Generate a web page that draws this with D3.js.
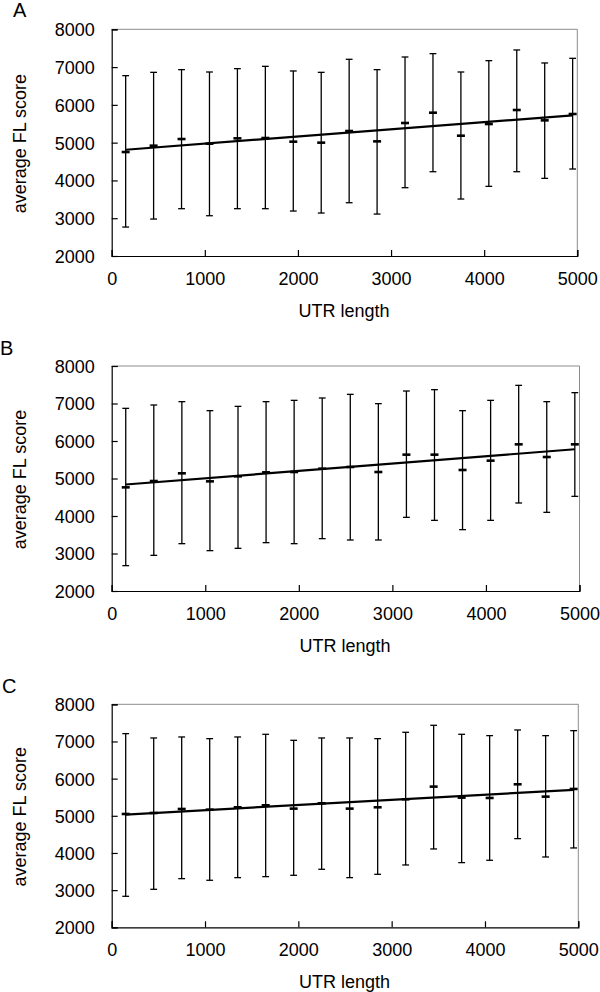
<!DOCTYPE html>
<html>
<head>
<meta charset="utf-8">
<script src="https://cdn.jsdelivr.net/npm/d3@7"></script>
<style>
  html, body { margin: 0; padding: 0; background: #fff; }
  svg { display: block; }
  text { font-family: "Liberation Sans", Arial, sans-serif; fill: #000; }
</style>
</head>
<body>
<svg id="chart" width="600" height="992"></svg>
<script>
// ---- data ----
const utrLength = [150, 450, 750, 1050, 1350, 1650, 1950, 2250, 2550, 2850, 3150, 3450, 3750, 4050, 4350, 4650, 4950];

const meanA  = [4752, 4920, 5096, 4973, 5114, 5123, 5026, 5000, 5308, 5034, 5520, 5793, 5184, 5493, 5864, 5590, 5758];
const upperA = [6773, 6861, 6932, 6870, 6959, 7020, 6897, 6861, 7206, 6932, 7267, 7356, 6870, 7170, 7453, 7109, 7232];
const lowerA = [2766, 2978, 3252, 3066, 3252, 3252, 3190, 3137, 3410, 3110, 3808, 4231, 3508, 3843, 4231, 4055, 4302];

const meanB  = [4764, 4933, 5138, 4924, 5058, 5164, 5173, 5262, 5307, 5173, 5636, 5636, 5227, 5476, 5911, 5573, 5911];
const upperB = [6871, 6960, 7049, 6809, 6924, 7049, 7084, 7147, 7244, 6996, 7333, 7369, 6809, 7084, 7484, 7049, 7289];
const lowerB = [2676, 2951, 3262, 3076, 3138, 3289, 3262, 3396, 3360, 3360, 3964, 3884, 3636, 3884, 4347, 4098, 4524];

const meanC  = [5049, 5076, 5184, 5166, 5229, 5283, 5193, 5336, 5193, 5229, 5444, 5785, 5489, 5480, 5848, 5516, 5722];
const upperC = [7211, 7094, 7121, 7076, 7121, 7193, 7031, 7094, 7094, 7076, 7247, 7435, 7193, 7157, 7309, 7157, 7291];
const lowerC = [2834, 3022, 3309, 3265, 3336, 3363, 3399, 3561, 3336, 3426, 3677, 4108, 3740, 3803, 4386, 3892, 4135];

const xTicks = [0, 1000, 2000, 3000, 4000, 5000];
const yTicks = [2000, 3000, 4000, 5000, 6000, 7000, 8000];
const panelLabels = ["A", "B", "C"];
const xTitle = "UTR length";
const yTitle = "average FL score";

// ---- layout ----
const panels = [
  { label: panelLabels[0], mean: meanA, upper: upperA, lower: lowerA,
    left: 111.7, right: 577.3, top: 29.3, bottom: 256, lx: 13, ly: 17 },
  { label: panelLabels[1], mean: meanB, upper: upperB, lower: lowerB,
    left: 111.7, right: 579.5, top: 366, bottom: 591, lx: 0, ly: 355 },
  { label: panelLabels[2], mean: meanC, upper: upperC, lower: lowerC,
    left: 111.7, right: 578.3, top: 704.3, bottom: 927.3, lx: 2, ly: 693 }
];

const svg = d3.select("#chart");

function linReg(xs, ys) {
  const n = xs.length;
  const mx = d3.mean(xs), my = d3.mean(ys);
  let sxy = 0, sxx = 0;
  for (let i = 0; i < n; i++) { sxy += (xs[i] - mx) * (ys[i] - my); sxx += (xs[i] - mx) ** 2; }
  const b = sxy / sxx;
  return { a: my - b * mx, b };
}

panels.forEach(p => {
  const x = d3.scaleLinear().domain([0, 5000]).range([p.left, p.right]);
  const y = d3.scaleLinear().domain([2000, 8000]).range([p.bottom, p.top]);
  const g = svg.append("g");

  // panel letter
  g.append("text").attr("x", p.lx).attr("y", p.ly)
    .attr("font-size", 20).text(p.label);

  // top/right frame (grey)
  g.append("path")
    .attr("d", `M${p.left},${p.top}H${p.right}V${p.bottom}`)
    .attr("fill", "none").attr("stroke", "#8c8c8c").attr("stroke-width", 1);

  // axes (ticks inside)
  const xAxis = d3.axisBottom(x).tickValues(xTicks).tickSize(-6).tickPadding(12).tickFormat(d3.format("d"));
  const gx = g.append("g").attr("transform", `translate(0,${p.bottom})`).call(xAxis);
  const yAxis = d3.axisLeft(y).tickValues(yTicks).tickSize(-6).tickPadding(17).tickFormat(d3.format("d"));
  const gy = g.append("g").attr("transform", `translate(${p.left},0)`).call(yAxis);
  [gx, gy].forEach(a => {
    a.select(".domain").attr("stroke", "#000").attr("stroke-width", 1.2);
    a.selectAll(".tick line").attr("stroke", "#000").attr("stroke-width", 1.2);
    a.selectAll(".tick text").attr("font-size", 18)
      .attr("font-family", "'Liberation Sans', Arial, sans-serif").attr("fill", "#000");
  });
  gx.selectAll(".tick text").attr("dy", null).attr("y", 29).attr("dominant-baseline", "auto");
  gy.selectAll(".tick text").attr("dy", "0.36em");

  // axis titles
  g.append("text")
    .attr("x", (p.left + p.right) / 2 - 0.5).attr("y", p.bottom + 60.5)
    .attr("text-anchor", "middle").attr("font-size", 18).text(xTitle);
  g.append("text")
    .attr("transform", `translate(26,${(p.top + p.bottom) / 2 + 1}) rotate(-90)`)
    .attr("text-anchor", "middle").attr("font-size", 18).text(yTitle);

  // error bars
  const capW = 3.4;
  const bars = g.append("g").attr("stroke", "#000").attr("fill", "none");
  utrLength.forEach((u, i) => {
    const cx = x(u);
    bars.append("line").attr("x1", cx).attr("x2", cx)
      .attr("y1", y(p.upper[i])).attr("y2", y(p.lower[i])).attr("stroke-width", 1.3);
    bars.append("line").attr("x1", cx - capW).attr("x2", cx + capW)
      .attr("y1", y(p.upper[i])).attr("y2", y(p.upper[i])).attr("stroke-width", 1.3);
    bars.append("line").attr("x1", cx - capW).attr("x2", cx + capW)
      .attr("y1", y(p.lower[i])).attr("y2", y(p.lower[i])).attr("stroke-width", 1.3);
  });

  // trend line (linear least squares of the means)
  const r = linReg(utrLength, p.mean);
  const x0 = d3.min(utrLength), x1 = d3.max(utrLength);
  g.append("line")
    .attr("x1", x(x0)).attr("y1", y(r.a + r.b * x0))
    .attr("x2", x(x1)).attr("y2", y(r.a + r.b * x1))
    .attr("stroke", "#000").attr("stroke-width", 2.2);

  // mean markers
  g.append("g").selectAll("line").data(utrLength).join("line")
    .attr("x1", (u) => x(u) - 4).attr("x2", (u) => x(u) + 4)
    .attr("y1", (u, i) => y(p.mean[i])).attr("y2", (u, i) => y(p.mean[i]))
    .attr("stroke", "#000").attr("stroke-width", 2.6);
});
</script>
</body>
</html>
